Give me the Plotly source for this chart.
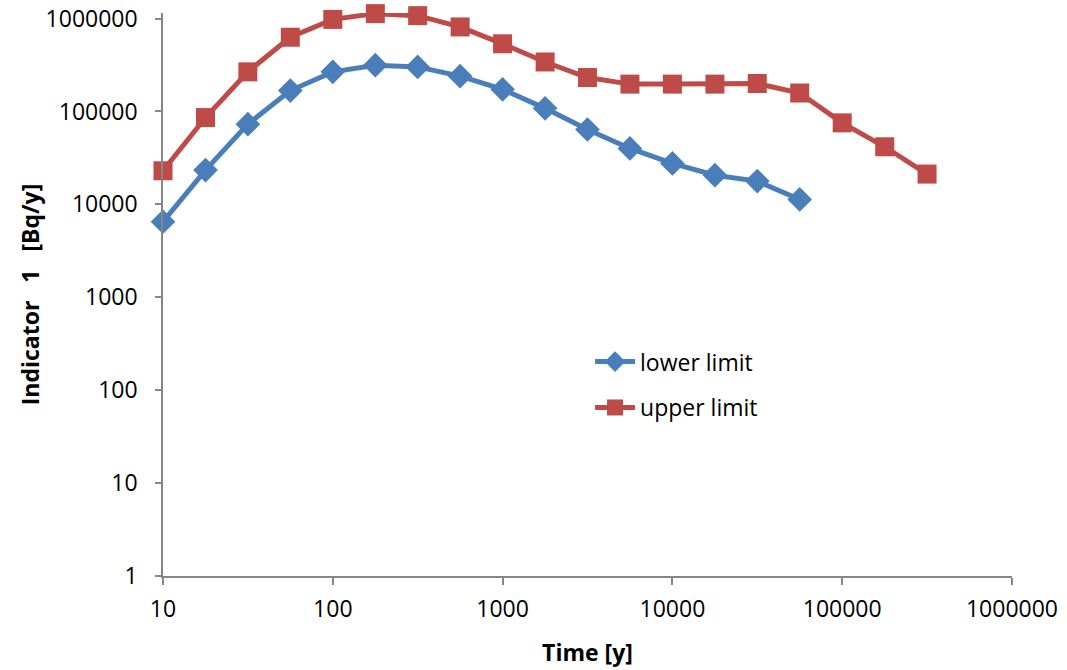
import plotly.graph_objects as go

time_y = [10, 17.8, 31.6, 56.2, 100, 178, 316, 562, 1000, 1780, 3160, 5620,
          10000, 17800, 31600, 56200, 100000, 178000, 316000]

lower_limit = [6500, 23400, 73000, 168000, 267000, 315000, 302000, 240000, 173000,
               108000, 64000, 40000, 27600, 20600, 17800, 11300]

upper_limit = [23000, 86000, 267000, 630000, 980000, 1130000, 1075000, 813000, 535000,
               341000, 232000, 197000, 197000, 197000, 200000, 158000, 75400, 41700, 21200]

x_ticks = [10, 100, 1000, 10000, 100000, 1000000]
x_tick_labels = ["10", "100", "1000", "10000", "100000", "1000000"]
y_ticks = [1, 10, 100, 1000, 10000, 100000, 1000000]
y_tick_labels = ["1", "10", "100", "1000", "10000", "100000", "1000000"]

BLUE = "#4A7EBB"
RED = "#BE4B48"
FONT = "Open Sans"
AXIS = "#868686"
FS = 23

fig = go.Figure()
fig.add_trace(go.Scatter(
    x=time_y[:len(lower_limit)], y=lower_limit, name="lower limit",
    mode="lines+markers", legendgroup="a", cliponaxis=False,
    line=dict(color=BLUE, width=5),
    marker=dict(symbol="diamond", size=19, color=BLUE),
))
fig.add_trace(go.Scatter(
    x=time_y[:len(upper_limit)], y=upper_limit, name="upper limit",
    mode="lines+markers", legendgroup="b", cliponaxis=False,
    line=dict(color=RED, width=5),
    marker=dict(symbol="square", size=19, color=RED),
))

fig.update_layout(
    width=1067, height=670,
    margin=dict(l=163, r=55, t=13, b=94, autoexpand=False),
    paper_bgcolor="white", plot_bgcolor="white",
    font=dict(family=FONT, size=FS, color="#000000"),
    showlegend=True,
    legend=dict(
        x=0.503, y=0.419, xanchor="left", yanchor="top",
        font=dict(family=FONT, size=FS, color="#000000"),
        bgcolor="rgba(0,0,0,0)", tracegroupgap=13, itemwidth=40,
    ),
    xaxis=dict(
        type="log", range=[1, 6], automargin=False,
        tickvals=x_ticks, ticktext=x_tick_labels,
        showgrid=False, zeroline=False,
        showline=True, linecolor=AXIS, linewidth=1.5,
        ticks="outside", ticklen=7, tickcolor=AXIS, tickwidth=1.5,
        tickfont=dict(family=FONT, size=FS),
        ticklabelstandoff=5, ticklabeloverflow="allow",
        title=dict(text="<b>Time [y]</b>", font=dict(family=FONT, size=FS), standoff=22),
    ),
    yaxis=dict(
        type="log", range=[0, 6.06], automargin=False,
        tickvals=y_ticks, ticktext=y_tick_labels,
        showgrid=False, zeroline=False,
        showline=True, linecolor=AXIS, linewidth=1.5,
        ticks="outside", ticklen=6, tickcolor=AXIS, tickwidth=1.5,
        tickfont=dict(family=FONT, size=FS),
        ticklabelstandoff=13, ticklabeloverflow="allow",
        title=dict(text="<b>Indicator \u00a0 1 \u00a0 [Bq/y]</b>", font=dict(family=FONT, size=FS), standoff=0),
    ),
)

fig.write_html("out.html", config={"displayModeBar": False},
               post_script="document.body.style.margin='0px';")
